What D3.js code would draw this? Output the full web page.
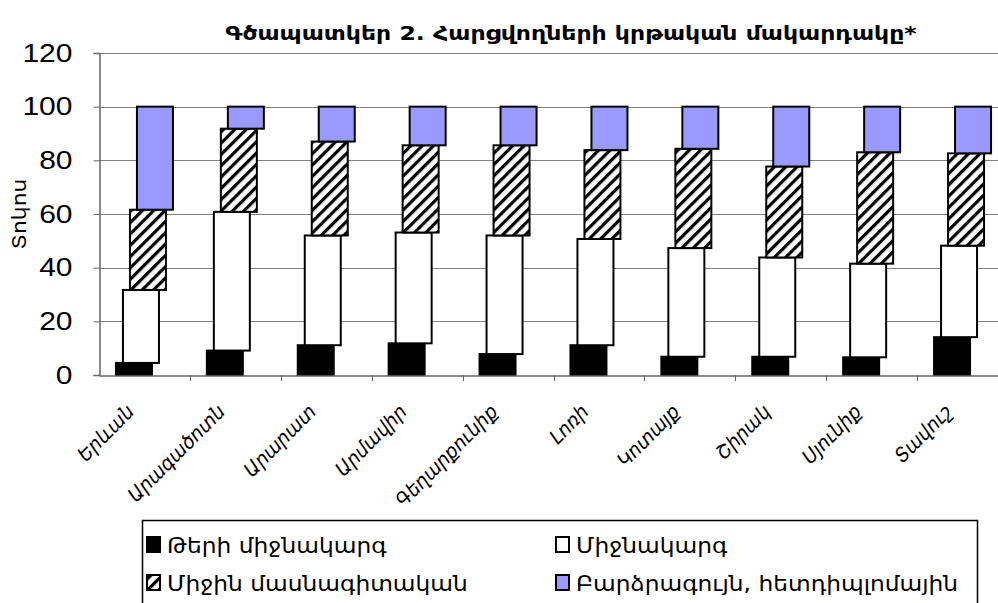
<!DOCTYPE html>
<html>
<head>
<meta charset="utf-8">
<script src="https://cdn.jsdelivr.net/npm/d3@7"></script>
<style>
  body { margin: 0; background: #fff; }
  .arm { font-family: "DejaVu Sans", sans-serif; }
  .grid line { stroke: #808080; stroke-width: 1; }
  .seg { stroke: #000; stroke-width: 2; }
</style>
</head>
<body>
<svg width="998" height="603"></svg>
<script>
var svg = d3.select("svg");

var regions = ["Երևան", "Արագածոտն", "Արարատ", "Արմավիր", "Գեղարքունիք",
               "Լոռի", "Կոտայք", "Շիրակ", "Սյունիք", "Տավուշ"];
var seriesNames = ["Թերի միջնակարգ", "Միջնակարգ", "Միջին մասնագիտական",
                   "Բարձրագույն, հետդիպլոմային"];
var incomplete = [4.5, 9.1, 11.1, 11.8, 7.8, 11.1, 6.8, 6.8, 6.6, 14.1];
var secondary  = [27.2, 51.7, 40.9, 41.3, 44.2, 39.6, 40.5, 37.0, 34.9, 34.1];
var vocational = [29.9, 31.0, 35.0, 32.5, 33.6, 33.1, 37.0, 33.9, 41.5, 34.4];
var higher     = [38.4, 8.2, 13.0, 14.4, 14.4, 16.2, 15.7, 22.3, 17.0, 17.4];
var yTicks = [0, 20, 40, 60, 80, 100, 120];

var plotLeft = 99, plotTop = 53, plotBottom = 375, bandRight = 1008,
    barW = 36, shift = 7;

var x = d3.scaleBand().domain(regions).range([plotLeft, bandRight]);
var y = d3.scaleLinear().domain([0, 120]).range([plotBottom, plotTop]);

// widen/narrow text horizontally (reference fonts differ)
function stretch(sel, k) {
  sel.each(function() {
    var w = this.getComputedTextLength();
    d3.select(this).attr("textLength", w * k).attr("lengthAdjust", "spacingAndGlyphs");
  });
}

var defs = svg.append("defs");
var pat = defs.append("pattern")
    .attr("id", "hatch")
    .attr("patternUnits", "userSpaceOnUse")
    .attr("width", 8).attr("height", 8)
    .attr("patternTransform", "rotate(45)");
pat.append("rect").attr("width", 8).attr("height", 8).attr("fill", "#fff");
pat.append("rect").attr("x", 0).attr("width", 3.2).attr("height", 8).attr("fill", "#000");

var fills = ["#000", "#fff", "url(#hatch)", "#9999ff"];

// gridlines
svg.append("g").attr("class", "grid")
  .selectAll("line")
  .data(yTicks.filter(function(d) { return d > 0; }))
  .enter().append("line")
    .attr("x1", plotLeft).attr("x2", 998)
    .attr("y1", function(d) { return Math.round(y(d)) + 0.5; })
    .attr("y2", function(d) { return Math.round(y(d)) + 0.5; });

// stacked data
var rows = regions.map(function(r, i) {
  return { region: r, s0: incomplete[i], s1: secondary[i], s2: vocational[i], s3: higher[i] };
});
var stack = d3.stack().keys(["s0", "s1", "s2", "s3"])(rows);

stack.forEach(function(layer, k) {
  svg.append("g").selectAll("rect")
    .data(layer)
    .enter().append("rect")
      .attr("class", "seg")
      .attr("x", function(d) { return x(d.data.region) + x.bandwidth() / 2 - barW / 2 - 1.5 * shift + k * shift; })
      .attr("y", function(d) { return y(d[1]); })
      .attr("width", barW)
      .attr("height", function(d) { return y(d[0]) - y(d[1]); })
      .attr("fill", fills[k]);
});

// axes
var yAxis = svg.append("g")
    .attr("transform", "translate(" + (plotLeft + 0.5) + ",0)")
    .call(d3.axisLeft(y).tickValues(yTicks).tickSize(6).tickPadding(21));
yAxis.select(".domain").attr("stroke", "#666").attr("stroke-width", 1.5);
yAxis.selectAll(".tick line").attr("stroke", "#666");
yAxis.selectAll(".tick text")
    .attr("font-family", "Liberation Sans, Arial, sans-serif")
    .attr("font-size", 25)
    .attr("fill", "#000")
    .call(stretch, 1.2);

var xAxis = svg.append("g")
    .attr("transform", "translate(0," + (plotBottom + 0.5) + ")")
    .call(d3.axisBottom(x).tickSize(0).tickFormat(""));
xAxis.select(".domain").attr("stroke", "#666").attr("stroke-width", 1.5);
svg.append("g").selectAll("line")
  .data(regions)
  .enter().append("line")
    .attr("x1", function(d) { return Math.round(x(d) + x.bandwidth()) + 0.5; })
    .attr("x2", function(d) { return Math.round(x(d) + x.bandwidth()) + 0.5; })
    .attr("y1", plotBottom).attr("y2", plotBottom + 6)
    .attr("stroke", "#666");

svg.append("g").selectAll("text")
  .data(regions)
  .enter().append("text")
    .attr("class", "arm")
    .attr("transform", function(d) {
      return "translate(" + (x(d) + x.bandwidth() / 2 - 9) + "," + (plotBottom + 38) + ") rotate(-45)";
    })
    .attr("text-anchor", "end")
    .attr("font-size", 20)
    .attr("font-style", "italic")
    .text(function(d) { return d; })
    .call(stretch, 0.93);

// title
svg.append("text")
    .attr("class", "arm")
    .attr("x", 571).attr("y", 40)
    .attr("text-anchor", "middle")
    .attr("font-size", 19)
    .attr("font-weight", "bold")
    .text("Գծապատկեր 2. Հարցվողների կրթական մակարդակը*")
    .call(stretch, 1.24);

// y label
svg.append("text")
    .attr("class", "arm")
    .attr("transform", "translate(26,214) rotate(-90)")
    .attr("text-anchor", "middle")
    .attr("font-size", 19)
    .text("Տոկոս")
    .call(stretch, 1.15);

// legend
var leg = svg.append("g");
leg.append("rect")
    .attr("x", 142.5).attr("y", 520.5).attr("width", 835).attr("height", 86)
    .attr("fill", "#fff").attr("stroke", "#000").attr("stroke-width", 1.5);
var legPos = [[147, 553], [556, 553], [147, 591], [556, 591]];
seriesNames.forEach(function(name, k) {
  var p = legPos[k];
  leg.append("rect")
      .attr("x", p[0]).attr("y", p[1] - 16).attr("width", 13).attr("height", 15)
      .attr("fill", fills[k]).attr("stroke", "#000").attr("stroke-width", 2);
  leg.append("text")
      .attr("class", "arm")
      .attr("x", p[0] + 20).attr("y", p[1])
      .attr("font-size", 22)
      .text(name)
      .call(stretch, 1.06);
});
</script>
</body>
</html>
